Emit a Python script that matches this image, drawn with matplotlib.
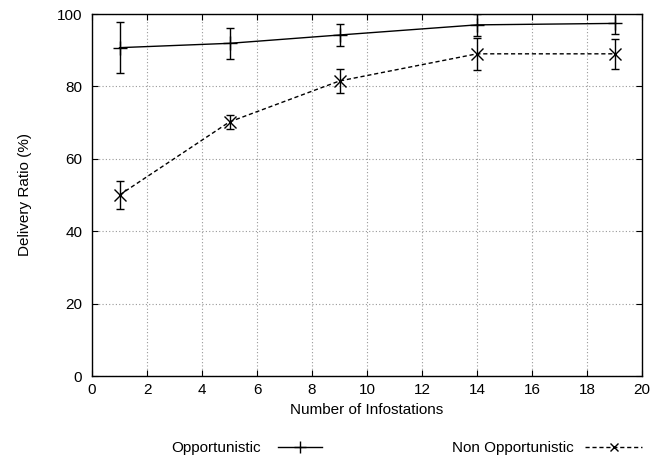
import matplotlib
matplotlib.use("Agg")
import matplotlib.pyplot as plt
from matplotlib.lines import Line2D

plt.rcParams['font.family'] = ['Liberation Sans', 'DejaVu Sans']

x = [1, 5, 9, 14, 19]
opp = [90.7, 91.9, 94.2, 97.0, 97.4]
opp_err = [7.0, 4.3, 3.0, 3.0, 2.9]
nonopp = [50.0, 70.2, 81.5, 89.0, 89.0]
nonopp_err = [4.0, 2.0, 3.3, 4.4, 4.1]
labels = ["Opportunistic", "Non Opportunistic"]

FS = 11

fig = plt.figure(figsize=(6.53, 4.62), dpi=100)
ax = fig.add_axes([92/653, 1-376/462, (642-92)/653, (376-14)/462])

ax.errorbar(x, opp, yerr=opp_err, color='black', lw=1.0, marker='+', ms=10,
            capsize=3, elinewidth=1.0, capthick=1.0, ls='-')
ax.errorbar(x, nonopp, yerr=nonopp_err, color='black', lw=1.0, marker='x', ms=8,
            capsize=3, elinewidth=1.0, capthick=1.0, ls=(0, (3, 2)))

ax.set_xlim(0, 20)
ax.set_ylim(0, 100)
ax.set_xticks(range(0, 21, 2))
ax.set_yticks(range(0, 101, 20))
ax.grid(True, color='#999999', ls=(0, (1, 2)), lw=0.8)
ax.tick_params(direction='in', top=True, right=True, labelsize=FS, length=4)
ax.tick_params(axis='y', pad=7)
ax.tick_params(axis='x', pad=5)
for s in ax.spines.values():
    s.set_linewidth(1.0)
ax.set_xlabel("Number of Infostations", fontsize=FS, labelpad=4)
ax.set_ylabel("Delivery Ratio (%)", fontsize=FS, labelpad=18)

h1 = Line2D([], [], color='black', lw=1.0, marker='+', ms=9)
h2 = Line2D([], [], color='black', lw=1.0, marker='x', ms=6, ls=(0, (3, 2)))
leg1 = fig.legend([h1], [labels[0]], loc='center right', bbox_to_anchor=(322/653, 1-448/462),
                  frameon=False, markerfirst=False, fontsize=FS, borderpad=0, borderaxespad=0,
                  handlelength=2.9, handletextpad=1.1)
leg2 = fig.legend([h2], [labels[1]], loc='center right', bbox_to_anchor=(642/653, 1-448/462),
                  frameon=False, markerfirst=False, fontsize=FS, borderpad=0, borderaxespad=0,
                  handlelength=3.7, handletextpad=0.8)

fig.savefig("out.png", dpi=100)
